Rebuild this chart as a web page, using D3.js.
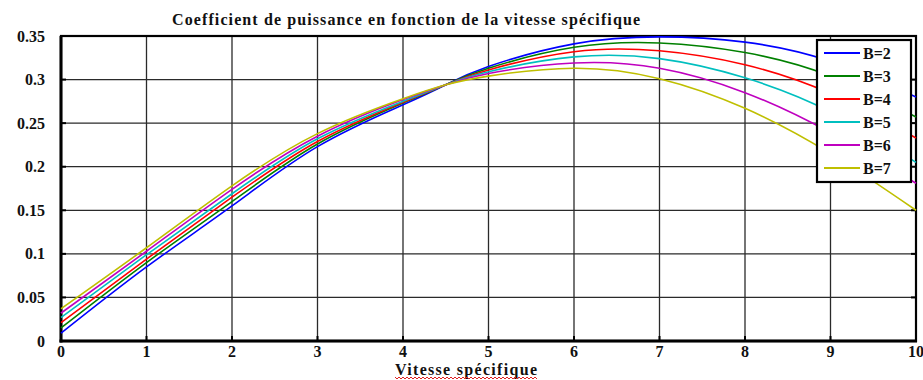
<!DOCTYPE html>
<html>
<head>
<meta charset="utf-8">
<script src="https://cdn.jsdelivr.net/npm/d3@7"></script>
<style>
  html, body { margin: 0; padding: 0; background: #fff; }
  svg { display: block; }
  text { font-family: "Liberation Serif", "Times New Roman", serif; font-weight: bold; fill: #111; }
</style>
</head>
<body>
<svg id="chart" width="923" height="380"></svg>
<script>
// ---- data ----
const title = "Coefficient de puissance en fonction de la vitesse spécifique";
const xLabel = "Vitesse spécifique";
const lambda = [0, 1, 2, 3, 4, 4.5, 5, 6, 7, 8, 9, 10];
const seriesNames = ["B=2", "B=3", "B=4", "B=5", "B=6", "B=7"];
const cpB2 = [0.009, 0.085, 0.155, 0.223, 0.271, 0.294, 0.315, 0.341, 0.349, 0.343, 0.321, 0.280];
const cpB3 = [0.015, 0.090, 0.160, 0.226, 0.273, 0.294, 0.313, 0.337, 0.342, 0.331, 0.304, 0.257];
const cpB4 = [0.021, 0.094, 0.165, 0.229, 0.274, 0.294, 0.311, 0.332, 0.333, 0.317, 0.284, 0.233];
const cpB5 = [0.027, 0.099, 0.169, 0.232, 0.275, 0.294, 0.309, 0.326, 0.324, 0.302, 0.263, 0.205];
const cpB6 = [0.032, 0.103, 0.174, 0.235, 0.277, 0.294, 0.307, 0.319, 0.313, 0.285, 0.239, 0.181];
const cpB7 = [0.037, 0.107, 0.178, 0.238, 0.278, 0.294, 0.304, 0.313, 0.301, 0.267, 0.215, 0.150];
const seriesValues = [cpB2, cpB3, cpB4, cpB5, cpB6, cpB7];
const seriesColors = ["#0000ff", "#008000", "#ff0000", "#00bfbf", "#bf00bf", "#bfbf00"];
const xTicks = [0, 1, 2, 3, 4, 5, 6, 7, 8, 9, 10];
const yTicks = [0, 0.05, 0.1, 0.15, 0.2, 0.25, 0.3, 0.35];
const yTickLabels = ["0", "0.05", "0.1", "0.15", "0.2", "0.25", "0.3", "0.35"];

// ---- layout ----
const svg = d3.select("#chart");
const L = 61, R = 916, T = 36, B = 341;
const x = d3.scaleLinear().domain([0, 10]).range([L, R]);
const y = d3.scaleLinear().domain([0, 0.35]).range([B, T]);

// grid
const grid = svg.append("g").attr("stroke", "#2a2a2a").attr("stroke-width", 1.3);
grid.selectAll("line.v").data(xTicks).join("line")
  .attr("x1", d => x(d)).attr("x2", d => x(d)).attr("y1", T).attr("y2", B);
grid.selectAll("line.h").data(yTicks).join("line")
  .attr("x1", L).attr("x2", R).attr("y1", d => y(d)).attr("y2", d => y(d));

// inward ticks (slightly heavier)
const tk = svg.append("g").attr("stroke", "#000").attr("stroke-width", 2);
tk.selectAll("line.b").data(xTicks).join("line")
  .attr("x1", d => x(d)).attr("x2", d => x(d)).attr("y1", B).attr("y2", B - 5);
tk.selectAll("line.r").data(yTicks).join("line")
  .attr("x1", R).attr("x2", R - 5).attr("y1", d => y(d)).attr("y2", d => y(d));
tk.selectAll("line.l").data(yTicks).join("line")
  .attr("x1", L).attr("x2", L + 5).attr("y1", d => y(d)).attr("y2", d => y(d));

// frame
svg.append("rect").attr("x", L).attr("y", T).attr("width", R - L).attr("height", B - T)
  .attr("fill", "none").attr("stroke", "#000").attr("stroke-width", 2.2);
svg.append("line").attr("x1", L).attr("x2", L).attr("y1", T).attr("y2", B + 1.5)
  .attr("stroke", "#000").attr("stroke-width", 3);
svg.append("line").attr("x1", L - 1.5).attr("x2", R + 1).attr("y1", B).attr("y2", B)
  .attr("stroke", "#000").attr("stroke-width", 3);

// curves
const line = d3.line().x(d => x(d[0])).y(d => y(d[1])).curve(d3.curveNatural);
seriesValues.forEach((vals, i) => {
  svg.append("path")
    .datum(lambda.map((l, j) => [l, vals[j]]))
    .attr("fill", "none")
    .attr("stroke", seriesColors[i])
    .attr("stroke-width", 1.6)
    .attr("d", line);
});

// tick labels
svg.append("g").selectAll("text").data(yTicks).join("text")
  .attr("x", 45).attr("y", d => y(d)).attr("dy", "0.35em")
  .attr("text-anchor", "end").attr("font-size", 16)
  .text((d, i) => yTickLabels[i]);
svg.append("g").selectAll("text").data(xTicks).join("text")
  .attr("x", d => x(d)).attr("y", 357)
  .attr("text-anchor", "middle").attr("font-size", 16)
  .text(d => d);

// title
svg.append("text").attr("x", 406).attr("y", 25).attr("text-anchor", "middle")
  .attr("font-size", 16).attr("textLength", 468).attr("lengthAdjust", "spacing")
  .text(title);

// x label with spellcheck squiggle
svg.append("text").attr("x", 466).attr("y", 375).attr("text-anchor", "middle")
  .attr("font-size", 16).attr("textLength", 142).attr("lengthAdjust", "spacing")
  .text(xLabel);
const sq = d3.path();
sq.moveTo(395, 377);
for (let px = 395, k = 0; px < 537; px += 2, k++) sq.lineTo(px + 2, k % 2 ? 377 : 379);
svg.append("path").attr("d", sq.toString()).attr("fill", "none")
  .attr("stroke", "#e02020").attr("stroke-width", 1);

// legend
const lg = svg.append("g");
lg.append("rect").attr("x", 817).attr("y", 40).attr("width", 94).attr("height", 142)
  .attr("fill", "#fff").attr("stroke", "#000").attr("stroke-width", 2.2);
seriesNames.forEach((name, i) => {
  const yy = 53 + i * 23;
  lg.append("line").attr("x1", 824).attr("x2", 860).attr("y1", yy).attr("y2", yy)
    .attr("stroke", seriesColors[i]).attr("stroke-width", 1.8);
  lg.append("text").attr("x", 863).attr("y", yy).attr("dy", "0.36em")
    .attr("font-size", 16).text(name);
});
</script>
</body>
</html>
